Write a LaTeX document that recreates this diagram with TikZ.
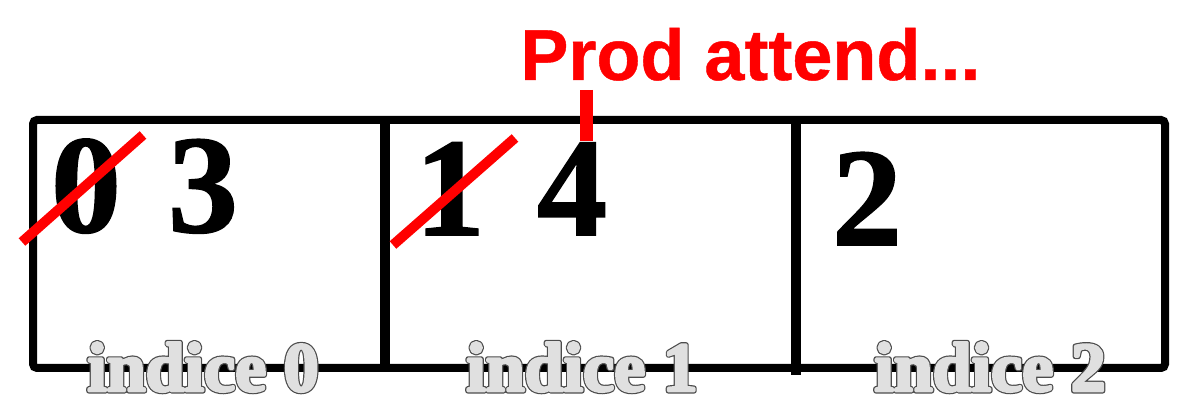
\documentclass[tikz,border=0pt]{standalone}
\usepackage{fontspec}
\setmainfont{Liberation Serif}
\newfontfamily\digitfont[FakeBold=1.2]{Liberation Serif}
\newfontfamily\prodfont[FakeBold=0.6]{Liberation Sans}
\definecolor{markred}{RGB}{255,0,0}
\definecolor{labelgray}{gray}{0.88}
% dark rim under, light fat body over
\newcommand{\rimtext}[1]{\special{pdf:literal direct 0.3 G 2.6 w 1 j 2 Tr}#1\special{pdf:literal direct 0 Tr}}
\newcommand{\bodytext}[1]{\special{pdf:literal direct 0.88 G 1.4 w 1 j 2 Tr}#1\special{pdf:literal direct 0 Tr}}
\tikzset{
  boxline/.style = {line width = 4pt, rounded corners = 2pt},
  divider/.style = {line width = 5pt},
  value/.style = {anchor = base, inner sep = 0, font = \digitfont\bfseries\fontsize{70}{70}\selectfont},
  indexlabel/.style = {anchor = base, inner sep = 0, text = labelgray, font = \bfseries\fontsize{35}{35}\selectfont},
  strike/.style = {draw = markred, line width = 5pt},
}
\begin{document}
\begin{tikzpicture}[x = .5pt, y = -.5pt]
  \useasboundingbox (0,0) rectangle (1200,400);
  \draw [boxline] (33,120) rectangle (1165,368);
  \draw [divider] (385,120) -- (385,368);
  \draw [divider] (796,120) -- (796,375);
  \foreach \i/\x in {0/203, 1/582, 2/990} {
    \node [indexlabel] (lab\i) at (\x,391) {\rimtext{indice \i}};
    \node [indexlabel] (fill\i) at (\x,391) {\bodytext{indice \i}};
  }
  \node [value] (v0) at (86,232) {0};
  \node [value] (v3) at (203,232) {3};
  \node [value] (v1) at (450,235) {1};
  \node [value] (v4) at (572,235) {4};
  \node [value] (v2) at (867,245) {2};
  \draw [strike] (22,242) -- (143,135);
  \draw [strike] (393,245) -- (515,138);
  \node [anchor = base west, inner sep = 0, text = markred,
    font = \prodfont\bfseries\fontsize{36}{36}\selectfont] (prod) at (520,80) {Prod attend...};
  \coordinate (tick top) at (586,90);
  \coordinate (tick end) at (586,141);
  \draw [markred, line width = 6.5pt] (tick top) -- (tick end);
\end{tikzpicture}
\end{document}
